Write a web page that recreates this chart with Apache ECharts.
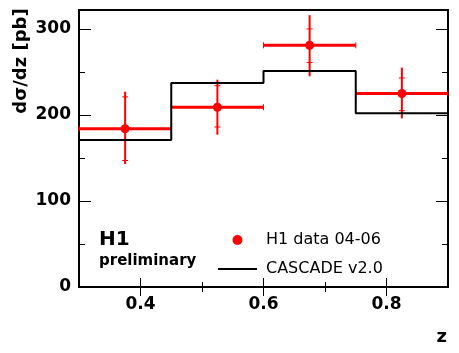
<!DOCTYPE html>
<html>
<head>
<meta charset="utf-8">
<script src="https://cdn.jsdelivr.net/npm/echarts@6/dist/echarts.min.js"></script>
<style>
  html, body { margin: 0; padding: 0; background: #fff; }
  #chart { width: 459px; height: 353px; }
</style>
</head>
<body>
<div id="chart"></div>
<script>
  // bins in z
  const zLow = [0.3, 0.45, 0.6, 0.75];
  const zHigh = [0.45, 0.6, 0.75, 0.9];
  const zMid = [0.375, 0.525, 0.675, 0.825];

  // H1 data 04-06
  const h1Values = [184, 209, 281, 225];
  const statLow = [147, 186, 261, 205];
  const statHigh = [221, 234, 300, 243];
  const totLow = [143, 177, 245, 196];
  const totHigh = [227, 241, 316, 255];

  // CASCADE v2.0 histogram
  const cascade = [171, 237, 251, 202];

  // tick labels
  const xMajor = [0.4, 0.6, 0.8];
  const xMinor = [0.5, 0.7];
  const yMajor = [0, 100, 200, 300];
  const yMinor = [50, 150, 250];

  const RED = '#ff0000';
  const BOLD = 'DejaVu Sans';

  const h1Data = zMid.map((z, i) => [z, h1Values[i], zLow[i], zHigh[i], statLow[i], statHigh[i], totLow[i], totHigh[i]]);
  // step line through the bin edges, last bin closed at its upper edge
  const cascadeData = zLow.map((z, i) => [z, cascade[i]]);
  cascadeData.push([zHigh[zHigh.length - 1], cascade[cascade.length - 1]]);

  function renderErrors(params, api) {
    const mid = api.coord([api.value(0), api.value(1)]);
    const lo = api.coord([api.value(2), api.value(1)]);
    const hi = api.coord([api.value(3), api.value(1)]);
    const sLo = api.coord([api.value(0), api.value(4)]);
    const sHi = api.coord([api.value(0), api.value(5)]);
    const tLo = api.coord([api.value(0), api.value(6)]);
    const tHi = api.coord([api.value(0), api.value(7)]);
    const thin = { stroke: RED, lineWidth: 1 };
    return {
      type: 'group',
      children: [
        { type: 'line', shape: { x1: lo[0], y1: mid[1], x2: hi[0], y2: mid[1] }, style: { stroke: RED, lineWidth: 3 } },
        { type: 'line', shape: { x1: lo[0], y1: mid[1] - 3, x2: lo[0], y2: mid[1] + 3 }, style: thin },
        { type: 'line', shape: { x1: hi[0], y1: mid[1] - 3, x2: hi[0], y2: mid[1] + 3 }, style: thin },
        { type: 'line', shape: { x1: mid[0], y1: tHi[1], x2: mid[0], y2: tLo[1] }, style: { stroke: RED, lineWidth: 2 } },
        { type: 'line', shape: { x1: mid[0] - 3, y1: sHi[1], x2: mid[0] + 3, y2: sHi[1] }, style: thin },
        { type: 'line', shape: { x1: mid[0] - 3, y1: sLo[1], x2: mid[0] + 3, y2: sLo[1] }, style: thin },
        { type: 'circle', shape: { cx: mid[0], cy: mid[1], r: 4.5 }, style: { fill: RED } }
      ]
    };
  }

  function xAxisDef(position, values, len, labels) {
    return {
      type: 'value', position: position, min: 0.3, max: 0.9,
      axisLine: { show: false },
      splitLine: { show: false },
      axisTick: { show: true, inside: true, length: len, customValues: values, lineStyle: { color: '#000', width: 1 } },
      axisLabel: labels ? {
        show: true, customValues: values, margin: 9,
        color: '#000', fontFamily: BOLD, fontWeight: 'bold', fontSize: 17,
        formatter: (v) => v.toFixed(1)
      } : { show: false }
    };
  }

  function yAxisDef(position, values, len, labels) {
    return {
      type: 'value', position: position, min: 0, max: 322,
      axisLine: { show: false },
      splitLine: { show: false },
      axisTick: { show: true, inside: true, length: len, customValues: values, lineStyle: { color: '#000', width: 1 } },
      axisLabel: labels ? {
        show: true, customValues: values, margin: 8,
        color: '#000', fontFamily: BOLD, fontWeight: 'bold', fontSize: 17
      } : { show: false }
    };
  }

  const chart = echarts.init(document.getElementById('chart'));

  chart.setOption({
    animation: false,
    backgroundColor: '#fff',
    grid: {
      left: 79, right: 11, top: 10, bottom: 66,
      show: true, borderColor: '#000', borderWidth: 2, backgroundColor: 'transparent'
    },
    xAxis: [
      xAxisDef('bottom', xMajor, 9, true),
      xAxisDef('bottom', xMinor, 5, false),
      xAxisDef('top', xMajor, 9, false),
      xAxisDef('top', xMinor, 5, false)
    ],
    yAxis: [
      yAxisDef('left', yMajor, 12, true),
      yAxisDef('left', yMinor, 6, false),
      yAxisDef('right', yMajor, 12, false),
      yAxisDef('right', yMinor, 6, false)
    ],
    legend: {
      orient: 'vertical',
      left: 213,
      top: 227,
      itemWidth: 39,
      itemHeight: 10,
      itemGap: 13,
      textStyle: { color: '#000', fontFamily: 'DejaVu Sans', fontSize: 16, lineHeight: 16, padding: [0, 0, 0, 4] },
      data: [
        { name: 'H1 data 04-06', icon: 'circle', itemStyle: { color: RED } },
        { name: 'CASCADE v2.0', icon: 'path://M0,0L39,0L39,2L0,2Z', itemStyle: { color: '#000' } }
      ]
    },
    graphic: [
      {
        type: 'text', x: 21, y: 61, rotation: Math.PI / 2,
        style: { text: 'dσ/dz [pb]', fill: '#000', font: 'bold 18px "DejaVu Sans"', align: 'center', verticalAlign: 'middle' }
      },
      {
        type: 'text', x: 447, y: 337,
        style: { text: 'z', fill: '#000', font: 'bold 18px "DejaVu Sans"', align: 'right', verticalAlign: 'middle' }
      },
      {
        type: 'text', x: 99, y: 240,
        style: { text: 'H1', fill: '#000', font: 'bold 20px "DejaVu Sans"', align: 'left', verticalAlign: 'middle' }
      },
      {
        type: 'text', x: 99, y: 261,
        style: { text: 'preliminary', fill: '#000', font: 'bold 15px "DejaVu Sans"', align: 'left', verticalAlign: 'middle' }
      }
    ],
    series: [
      {
        name: 'CASCADE v2.0',
        type: 'line',
        step: 'end',
        data: cascadeData,
        symbol: 'none',
        color: '#000',
        lineStyle: { color: '#000', width: 2 }
      },
      {
        name: 'H1 data 04-06',
        type: 'custom',
        renderItem: renderErrors,
        data: h1Data,
        itemStyle: { color: RED },
        encode: { x: [0, 2, 3], y: [1, 4, 5, 6, 7] },
        clip: false
      }
    ]
  });
</script>
</body>
</html>
